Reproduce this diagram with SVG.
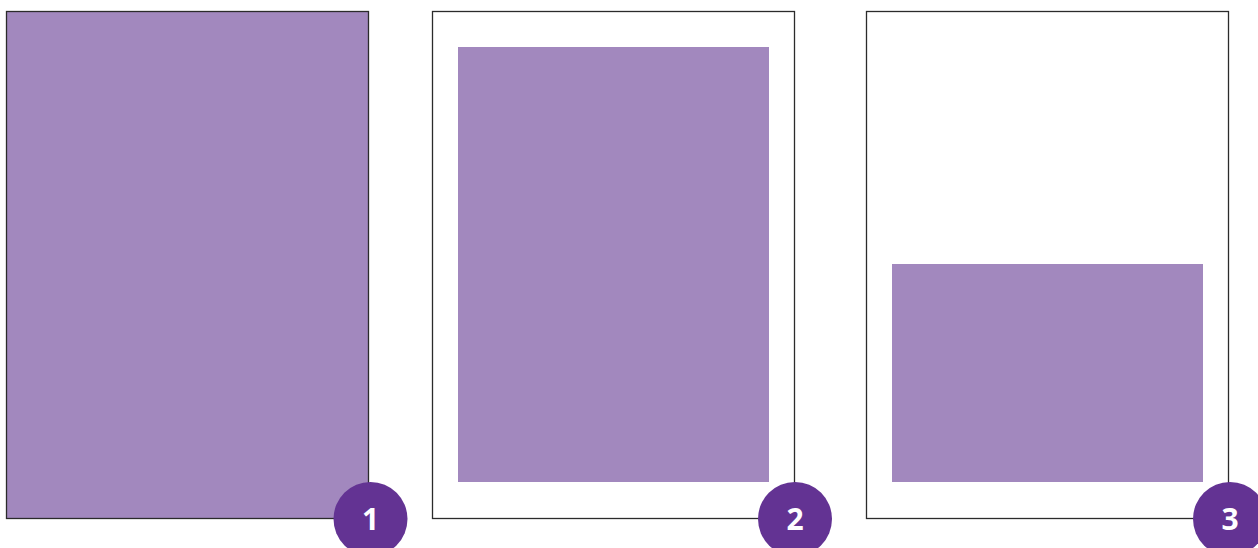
<svg xmlns="http://www.w3.org/2000/svg" width="1258" height="548" viewBox="0 0 1258 548">
<style>
.frame{fill:#ffffff;stroke:#2b2b2b;stroke-width:1.3}
.fill{fill:#a288be}
.badge{fill:#633393}
.num{fill:#ffffff;font-family:"Open Sans","Liberation Sans",sans-serif;font-weight:700;font-size:30px;text-anchor:middle}
</style>
<rect width="1258" height="548" fill="#ffffff"/>
<g id="panel1">
<rect class="frame" x="6.5" y="11.5" width="362" height="507" style="fill:#a288be"/>
</g>
<g id="panel2">
<rect class="frame" x="432.5" y="11.5" width="362" height="507"/>
<rect class="fill" x="458" y="47" width="311" height="435"/>
</g>
<g id="panel3">
<rect class="frame" x="866.5" y="11.5" width="362" height="507"/>
<rect class="fill" x="892" y="264" width="311" height="218"/>
</g>
<g id="badge1">
<circle class="badge" cx="370.5" cy="519" r="37"/>
<text class="num" x="370.5" y="530">1</text>
</g>
<g id="badge2">
<circle class="badge" cx="795" cy="519" r="37"/>
<text class="num" x="795" y="530">2</text>
</g>
<g id="badge3">
<circle class="badge" cx="1230" cy="519" r="37"/>
<text class="num" x="1230" y="530">3</text>
</g>
<g id="connectors"/>
</svg>
